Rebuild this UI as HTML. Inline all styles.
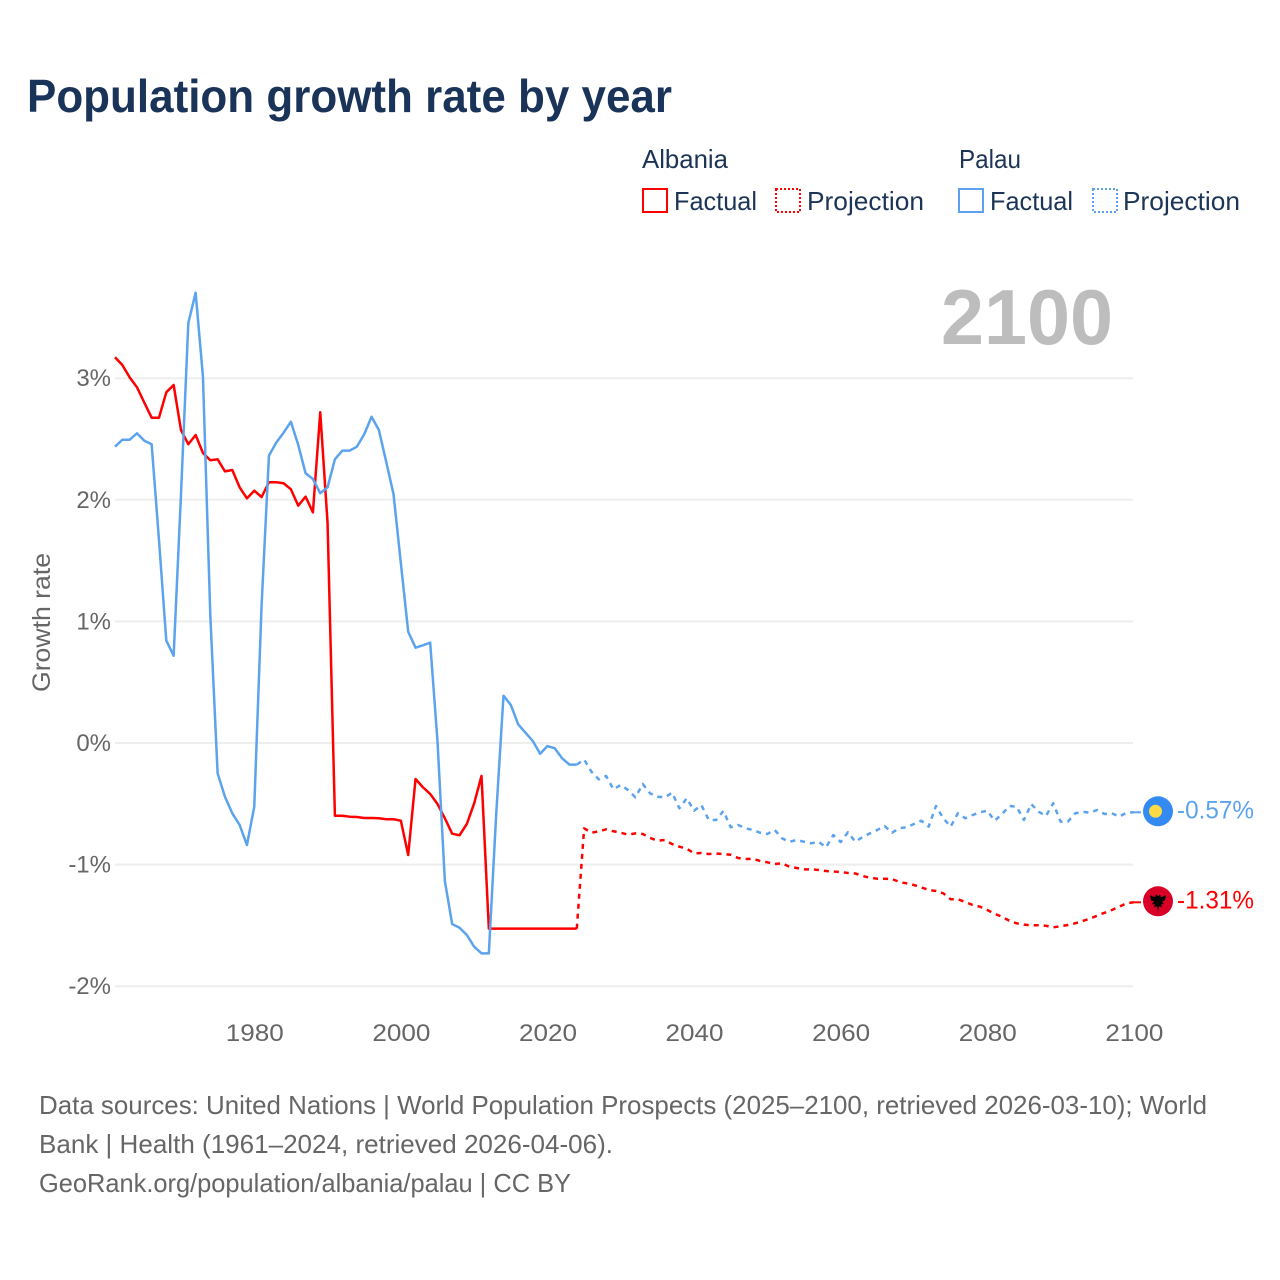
<!DOCTYPE html>
<html lang="en">
<head>
<meta charset="utf-8">
<title>Population growth rate by year</title>
<style>
html,body{margin:0;padding:0;background:#fff;}
svg{display:block;font-family:"Liberation Sans",sans-serif;}
</style>
</head>
<body>
<svg id="chart" xmlns="http://www.w3.org/2000/svg" width="1280" height="1280" viewBox="0 0 1280 1280">
  <rect x="0" y="0" width="1280" height="1280" fill="#ffffff"/>
  <text x="27" y="112" font-size="46" font-weight="700" fill="#1a3358" textLength="645" lengthAdjust="spacingAndGlyphs">Population growth rate by year</text>

  <g font-size="26" fill="#1c3557">
    <text x="642" y="168" textLength="86" lengthAdjust="spacingAndGlyphs">Albania</text>
    <text x="959" y="168" textLength="62" lengthAdjust="spacingAndGlyphs">Palau</text>
    <g>
      <rect x="643" y="189" width="24" height="23" fill="none" stroke="#ff0000" stroke-width="2"/>
      <text x="674" y="210" textLength="83" lengthAdjust="spacingAndGlyphs">Factual</text>
    </g>
    <g>
      <rect x="776" y="189" width="24" height="23" fill="none" stroke="#ff0000" stroke-width="2" stroke-dasharray="2,2"/>
      <text x="807" y="210" textLength="117" lengthAdjust="spacingAndGlyphs">Projection</text>
    </g>
    <g>
      <rect x="959" y="189" width="24" height="23" fill="none" stroke="#5ca3ee" stroke-width="2"/>
      <text x="990" y="210" textLength="83" lengthAdjust="spacingAndGlyphs">Factual</text>
    </g>
    <g>
      <rect x="1093" y="189" width="24" height="23" fill="none" stroke="#5ca3ee" stroke-width="2" stroke-dasharray="2,2"/>
      <text x="1123" y="210" textLength="117" lengthAdjust="spacingAndGlyphs">Projection</text>
    </g>
  </g>

  <text x="941" y="344" font-size="78" font-weight="700" fill="#bdbdbd" textLength="172" lengthAdjust="spacingAndGlyphs">2100</text>

  <g id="grid"></g>
  <g id="yticks" font-size="24" fill="#666666" text-anchor="end"></g>
  <g id="xticks" font-size="24" fill="#666666" text-anchor="middle"></g>
  <text transform="translate(50,622.5) rotate(-90)" font-size="25" fill="#666666" text-anchor="middle" textLength="139" lengthAdjust="spacingAndGlyphs">Growth rate</text>

  <g id="series" fill="none" stroke-width="2.5" stroke-linejoin="round"></g>
  <g id="ends"></g>

  <g font-size="26" fill="#666666">
    <text x="39" y="1114" textLength="1168" lengthAdjust="spacingAndGlyphs">Data sources: United Nations | World Population Prospects (2025–2100, retrieved 2026-03-10); World</text>
    <text x="39" y="1153" textLength="574" lengthAdjust="spacingAndGlyphs">Bank | Health (1961–2024, retrieved 2026-04-06).</text>
    <text x="39" y="1192" textLength="532" lengthAdjust="spacingAndGlyphs">GeoRank.org/population/albania/palau | CC BY</text>
  </g>
</svg>
<script>
// Chart data (growth rate in %, one value per year)
const factualStartYear = 1961;
const projectionStartYear = 2025;
const xTickYears = [1980, 2000, 2020, 2040, 2060, 2080, 2100];
const yTickValues = [3, 2, 1, 0, -1, -2];
const albaniaFactual = [
  3.172,3.109,3.007,2.925,2.799,2.675,2.675,2.884,2.944,2.574,
  2.457,2.533,2.385,2.325,2.333,2.234,2.245,2.103,2.012,2.075,
  2.023,2.144,2.144,2.136,2.086,1.952,2.026,1.897,2.720,1.809,
  -0.598,-0.598,-0.606,-0.609,-0.617,-0.617,-0.619,-0.627,-0.627,-0.639,
  -0.921,-0.296,-0.364,-0.419,-0.502,-0.619,-0.746,-0.759,-0.666,-0.496,
  -0.271,-1.527,-1.527,-1.527,-1.527,-1.527,-1.527,-1.527,-1.527,-1.527,
  -1.527,-1.527,-1.527,-1.527
];
const albaniaProjection = [
  -0.702,-0.738,-0.726,-0.710,-0.726,-0.738,-0.754,-0.743,-0.748,-0.781,
  -0.803,-0.798,-0.831,-0.853,-0.869,-0.907,-0.905,-0.913,-0.910,-0.913,
  -0.919,-0.946,-0.954,-0.952,-0.970,-0.981,-0.995,-0.989,-1.017,-1.028,
  -1.039,-1.039,-1.044,-1.053,-1.057,-1.061,-1.069,-1.073,-1.094,-1.108,
  -1.116,-1.116,-1.118,-1.143,-1.154,-1.168,-1.187,-1.209,-1.217,-1.236,
  -1.285,-1.285,-1.308,-1.332,-1.346,-1.373,-1.404,-1.429,-1.461,-1.483,
  -1.494,-1.499,-1.499,-1.503,-1.516,-1.507,-1.497,-1.483,-1.464,-1.445,
  -1.420,-1.396,-1.373,-1.346,-1.318,-1.31
];
const palauFactual = [
  2.437,2.494,2.494,2.547,2.486,2.457,1.669,0.841,0.718,2.040,
  3.452,3.703,3.012,1.053,-0.249,-0.442,-0.578,-0.674,-0.839,-0.524,
  1.135,2.363,2.470,2.552,2.642,2.451,2.218,2.171,2.054,2.103,
  2.333,2.404,2.404,2.437,2.539,2.683,2.574,2.313,2.045,1.478,
  0.915,0.784,0.803,0.825,0.011,-1.135,-1.489,-1.519,-1.579,-1.675,
  -1.730,-1.730,-0.592,0.389,0.313,0.154,0.085,0.016,-0.088,-0.025,
  -0.044,-0.126,-0.178,-0.178
];
const palauProjection = [
  -0.136,-0.236,-0.299,-0.271,-0.381,-0.345,-0.387,-0.447,-0.337,-0.414,
  -0.442,-0.447,-0.409,-0.537,-0.455,-0.557,-0.510,-0.633,-0.633,-0.559,
  -0.693,-0.674,-0.701,-0.715,-0.738,-0.748,-0.715,-0.784,-0.812,-0.798,
  -0.812,-0.825,-0.812,-0.858,-0.757,-0.814,-0.734,-0.812,-0.773,-0.743,
  -0.715,-0.683,-0.738,-0.701,-0.693,-0.666,-0.639,-0.688,-0.518,-0.619,
  -0.688,-0.578,-0.619,-0.592,-0.570,-0.557,-0.639,-0.586,-0.518,-0.524,
  -0.633,-0.502,-0.565,-0.600,-0.496,-0.647,-0.647,-0.578,-0.565,-0.573,
  -0.551,-0.584,-0.578,-0.606,-0.573,-0.57
];

const SVG_NS = 'http://www.w3.org/2000/svg';
const RED = '#ff0000';
const BLUE = '#5ca3ee';

function xScale(year) { return 115 + (year - 1961) * 7.33; }
function yScale(value) { return 743 - value * 121.6; }
function make(tag, parent) {
  const el = document.createElementNS(SVG_NS, tag);
  parent.appendChild(el);
  return el;
}
function linePath(startYear, values) {
  return values.map(function (v, i) {
    return (i ? 'L' : 'M') + xScale(startYear + i).toFixed(2) + ' ' + yScale(v).toFixed(2);
  }).join('');
}

const gridGroup = document.getElementById('grid');
const yTickGroup = document.getElementById('yticks');
yTickValues.forEach(function (v) {
  const line = make('line', gridGroup);
  
  
  line.setAttribute('x1', 115);
  line.setAttribute('x2', 1133);
  line.setAttribute('y1', yScale(v));
  line.setAttribute('y2', yScale(v));
  line.setAttribute('stroke', '#eeeeee');
  line.setAttribute('stroke-width', '2');
  const label = make('text', yTickGroup);
  
  
  label.setAttribute('x', 111);
  label.setAttribute('y', yScale(v) + 8);
  label.textContent = v + '%';
});

const xTickGroup = document.getElementById('xticks');
xTickYears.forEach(function (year) {
  const label = make('text', xTickGroup);
  
  
  label.setAttribute('x', xScale(year) + 0.5);
  label.setAttribute('y', 1041);
  label.setAttribute('textLength', '58');
  label.setAttribute('lengthAdjust', 'spacingAndGlyphs');
  label.textContent = year;
});

const seriesGroup = document.getElementById('series');

const albaniaFactualLine = make('path', seriesGroup);


albaniaFactualLine.setAttribute('stroke', RED);
albaniaFactualLine.setAttribute('d', linePath(factualStartYear, albaniaFactual));

const albaniaProjectionLine = make('path', seriesGroup);


albaniaProjectionLine.setAttribute('stroke', RED);
albaniaProjectionLine.setAttribute('stroke-dasharray', '5,5');
albaniaProjectionLine.setAttribute('d', linePath(projectionStartYear - 1, albaniaFactual.slice(-1).concat(albaniaProjection)));

const palauFactualLine = make('path', seriesGroup);


palauFactualLine.setAttribute('stroke', BLUE);
palauFactualLine.setAttribute('d', linePath(factualStartYear, palauFactual));

const palauProjectionLine = make('path', seriesGroup);


palauProjectionLine.setAttribute('stroke', BLUE);
palauProjectionLine.setAttribute('stroke-dasharray', '5,5');
palauProjectionLine.setAttribute('d', linePath(projectionStartYear - 1, palauFactual.slice(-1).concat(palauProjection)));

// End markers and value labels follow the last projected value
const endsGroup = document.getElementById('ends');
const lastYear = xTickYears[xTickYears.length - 1];
const albaniaLast = albaniaProjection[albaniaProjection.length - 1];
const palauLast = palauProjection[palauProjection.length - 1];
const albaniaEndY = yScale(albaniaLast);
const palauEndY = yScale(palauLast);

const palauLeader = make('line', endsGroup);


palauLeader.setAttribute('x1', xScale(lastYear));
palauLeader.setAttribute('x2', 1141);
palauLeader.setAttribute('y1', palauEndY);
palauLeader.setAttribute('y2', palauEndY);
palauLeader.setAttribute('stroke', BLUE);
palauLeader.setAttribute('stroke-width', '2');

const albaniaLeader = make('line', endsGroup);


albaniaLeader.setAttribute('x1', xScale(lastYear));
albaniaLeader.setAttribute('x2', 1141);
albaniaLeader.setAttribute('y1', albaniaEndY);
albaniaLeader.setAttribute('y2', albaniaEndY);
albaniaLeader.setAttribute('stroke', RED);
albaniaLeader.setAttribute('stroke-width', '2');

const palauFlag = make('g', endsGroup);


palauFlag.setAttribute('transform', 'translate(1158,' + (palauEndY - 1) + ')');
const palauDisc = make('circle', palauFlag);


palauDisc.setAttribute('r', '15');
palauDisc.setAttribute('fill', '#338af3');
const palauMoon = make('circle', palauFlag);


palauMoon.setAttribute('cx', '-2.5');
palauMoon.setAttribute('r', '6.5');
palauMoon.setAttribute('fill', '#ffda44');

const albaniaFlag = make('g', endsGroup);


albaniaFlag.setAttribute('transform', 'translate(1158,' + (albaniaEndY - 1) + ')');
const albaniaDisc = make('circle', albaniaFlag);


albaniaDisc.setAttribute('r', '15');
albaniaDisc.setAttribute('fill', '#d80027');
const albaniaEagle = make('path', albaniaFlag);


albaniaEagle.setAttribute('d', 'M-8-6L-3-4L-2-7L0-5L2-7L3-4L8-6L7-1L4 0L6 3L3 3L4 6L1 5L0 10L-1 5L-4 6L-3 3L-6 3L-4 0L-7-1Z');
albaniaEagle.setAttribute('fill', '#000000');

const palauValue = make('text', endsGroup);


palauValue.setAttribute('x', '1177');
palauValue.setAttribute('y', palauEndY + 6);
palauValue.setAttribute('font-size', '25');
palauValue.setAttribute('fill', BLUE);
palauValue.setAttribute('textLength', '77');
palauValue.setAttribute('lengthAdjust', 'spacingAndGlyphs');
palauValue.textContent = palauLast.toFixed(2) + '%';

const albaniaValue = make('text', endsGroup);


albaniaValue.setAttribute('x', '1177');
albaniaValue.setAttribute('y', albaniaEndY + 6);
albaniaValue.setAttribute('font-size', '25');
albaniaValue.setAttribute('fill', RED);
albaniaValue.setAttribute('textLength', '77');
albaniaValue.setAttribute('lengthAdjust', 'spacingAndGlyphs');
albaniaValue.textContent = albaniaLast.toFixed(2) + '%';
</script>
</body>
</html>
